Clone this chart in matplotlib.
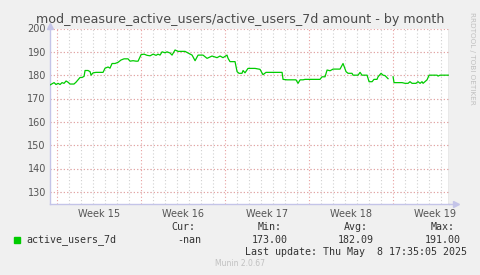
import matplotlib
matplotlib.use('Agg')
import matplotlib.pyplot as plt
import numpy as np

# days since Monday of week 15
days = [-0.56, -0.39, -0.22, -0.06, 0.11, 0.28, 0.44, 0.61, 0.78, 0.94,
        1.11, 1.28, 1.44, 1.61, 1.78, 1.94, 2.11, 2.28, 2.36, 2.61,
        2.78, 2.86, 3.03, 3.28, 3.61, 3.86, 4.03, 4.28, 4.44, 4.61,
        4.86, 5.11, 5.36, 5.61, 5.94, 6.11, 6.36, 6.61, 6.78, 7.03,
        7.28, 7.53, 7.78, 8.03, 8.28, 8.44, 8.61, 8.78, 9.03, 9.19,
        9.44, 9.61, 9.86, 10.11, 10.69, 10.94, 11.28, 11.53, 11.78, 12.19,
        12.53, 12.94, 13.36, 13.61, 13.86, 14.19, 14.28, 14.44, 14.86, 15.03,
        15.19, 15.44, 15.53, 15.69, 15.94, 16.53, 16.94, 17.19, 17.44, 18.78,
        18.86, 19.19, 19.94, 20.11, 20.28, 20.53, 20.69, 21.94, 22.11, 22.36,
        22.53, 22.78, 23.03, 23.61, 23.86, 24.11, 24.28, 24.61, 24.69, 25.11,
        25.28, 25.44, 25.86, 26.03, 26.28, 26.44, 26.69, 26.78, 27.03, 27.19,
        27.36, 27.61, 27.8, 28.03, 28.11, 28.78, 29.03, 29.28, 29.44, 29.61,
        29.94, 30.11, 30.28, 30.44, 30.53, 30.86, 31.03, 31.69, 31.78, 31.94,
        32.69]
active_users = [175.8, 176.3, 176.8, 176.0, 176.5, 176.0, 176.8, 176.5, 177.5, 177.0,
                176.2, 176.2, 176.2, 177.0, 178.0, 179.0, 179.0, 179.5, 182.0, 182.0,
                181.5, 180.0, 181.0, 181.2, 181.2, 181.2, 183.0, 183.5, 183.0, 185.0,
                185.0, 185.5, 186.5, 187.0, 187.0, 186.0, 186.2, 186.0, 186.0, 188.8,
                189.0, 188.5, 188.3, 189.0, 188.5, 189.0, 188.6, 190.0, 189.6, 190.0,
                189.5, 188.6, 190.8, 190.2, 190.2, 189.5, 188.6, 186.2, 188.6, 188.6,
                187.2, 188.2, 187.5, 188.2, 187.5, 188.6, 187.2, 185.8, 185.8, 181.5,
                180.8, 180.8, 182.0, 181.0, 182.9, 182.9, 182.5, 180.2, 181.2, 181.2,
                178.2, 178.0, 178.0, 176.5, 178.0, 178.0, 178.2, 178.2, 179.3, 179.3,
                182.2, 181.9, 182.6, 182.6, 185.0, 181.5, 180.8, 180.8, 180.0, 180.0,
                181.2, 180.0, 180.0, 177.2, 177.2, 178.2, 178.2, 179.3, 180.8, 180.0,
                179.8, 178.5, np.nan, 179.3, 176.8, 176.8, 176.5, 176.5, 177.2, 176.5,
                176.5, 177.2, 176.5, 177.2, 176.5, 178.0, 180.0, 180.0, 179.6, 180.0,
                180.0]

week_starts = [0, 7, 14, 21, 28]
week_labels = ['Week 15', 'Week 16', 'Week 17', 'Week 18', 'Week 19']
y_ticks = [130, 140, 150, 160, 170, 180, 190, 200]

title = 'mod_measure_active_users/active_users_7d amount - by month'
series_name = 'active_users_7d'
stats = {'Cur:': '-nan', 'Min:': '173.00', 'Avg:': '182.09', 'Max:': '191.00'}
last_update = 'Last update: Thu May  8 17:35:05 2025'

bg = '#f0f0f0'
major_col = '#e8a0a0'
minor_col = '#d0d0d0'
text_col = '#555555'
line_col = '#00cc00'

fig = plt.figure(figsize=(4.81, 2.75), dpi=100, facecolor=bg)
ax = fig.add_axes([50 / 481, 1 - 203.5 / 275, 399 / 481, 175 / 275])
ax.set_facecolor('white')

x_min, x_max = -0.56, 32.69
y_min, y_max = 125, 200

# grid: days / 5 units minor, weeks / 10 units major
for d in np.arange(np.ceil(x_min), x_max, 1):
    if d not in week_starts:
        ax.axvline(d, color=minor_col, lw=0.8, ls=(0, (1, 2)), zorder=1)
for v in np.arange(y_min + 5, y_max, 10):
    ax.axhline(v, color=minor_col, lw=0.8, ls=(0, (1, 2)), zorder=1)
for d in week_starts:
    ax.axvline(d, color=major_col, lw=0.8, ls=(0, (1, 2)), zorder=2)
for v in y_ticks:
    ax.axhline(v, color=major_col, lw=0.8, ls=(0, (1, 2)), zorder=2)

ax.plot(days, active_users, color=line_col, lw=0.9, zorder=3)
ax.axvline(x_max, color='#909090', lw=1.0, zorder=4)

ax.set_xlim(x_min, x_max)
ax.set_ylim(y_min, y_max)
for s in ['top', 'right']:
    ax.spines[s].set_visible(False)
for s in ['left', 'bottom']:
    ax.spines[s].set_color('#c4c4e8')
    ax.spines[s].set_linewidth(1.0)
ax.plot([0], [1.015], marker='^', color='#c4c4e8', ms=4, transform=ax.transAxes, clip_on=False)
ax.plot([1.018], [0], marker='>', color='#c4c4e8', ms=4, transform=ax.transAxes, clip_on=False)
ax.plot([0, 0], [1.0, 1.015], color='#c4c4e8', lw=1.0, transform=ax.transAxes, clip_on=False)
ax.plot([1.0, 1.018], [0, 0], color='#c4c4e8', lw=1.0, transform=ax.transAxes, clip_on=False)

ax.set_yticks(y_ticks)
ax.set_yticklabels([str(v) for v in y_ticks])
ax.set_xticks([w + 3.5 for w in week_starts])
ax.set_xticklabels(week_labels)
ax.tick_params(axis='both', length=0, labelsize=7, colors=text_col, pad=4)
ax.tick_params(axis='y', pad=3)

fig.text(240 / 481, 1 - 19 / 275, title, ha='center', va='center', fontsize=9.1, color='#4a4a4a')
fig.text(472 / 481, 1 - 12 / 275, 'RRDTOOL / TOBI OETIKER', rotation=270, ha='center', va='top',
         fontsize=5.2, color='#c0c0c0')

# legend block
mono = 'DejaVu Sans Mono'
fig.patches.append(plt.Rectangle((14 / 481, 1 - 243 / 275), 6 / 481, 6 / 275,
                                 transform=fig.transFigure, color=line_col, figure=fig))
fig.text(26 / 481, 1 - 240 / 275, series_name, family=mono, fontsize=7.2, color='#333333', va='center')
for (label, val), xr in zip(stats.items(), [201, 288, 374, 461]):
    fig.text((xr - 6) / 481, 1 - 227 / 275, label, family=mono, fontsize=7.2, color='#333333',
             ha='right', va='center')
    fig.text(xr / 481, 1 - 240 / 275, val, family=mono, fontsize=7.2, color='#333333',
             ha='right', va='center')
fig.text(467 / 481, 1 - 252 / 275, last_update, family=mono, fontsize=7.2, color='#333333',
         ha='right', va='center')
fig.text(240 / 481, 1 - 264 / 275, 'Munin 2.0.67', fontsize=5.5, color='#c0c0c0', ha='center', va='center')

fig.savefig('out.png', dpi=100, facecolor=bg)
